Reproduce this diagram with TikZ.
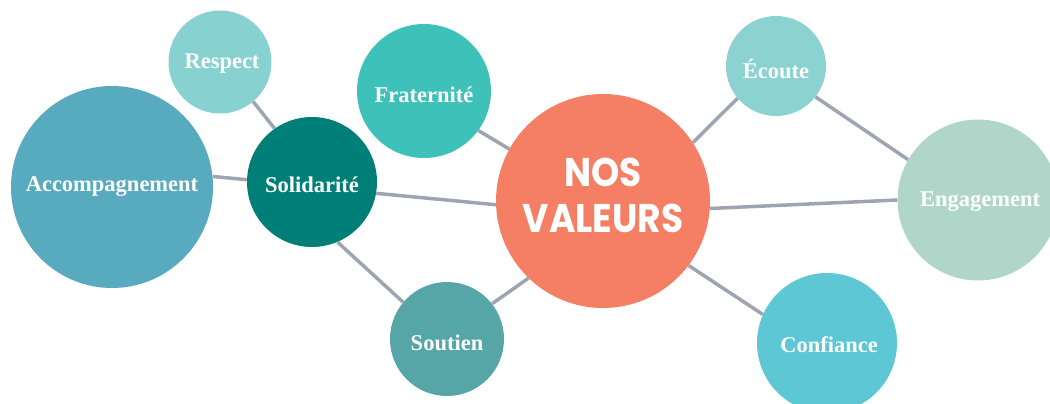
\documentclass[tikz,border=0pt]{standalone}
\usepackage{fontspec}
\setmainfont{Liberation Serif}
\newfontfamily\titlefont[FakeStretch=0.9]{Poppins}
\definecolor{linegray}{HTML}{9EA4B2}
\definecolor{respectc}{HTML}{88D1D1}
\definecolor{fraternitec}{HTML}{3DC1B9}
\definecolor{accompc}{HTML}{58ABBF}
\definecolor{solidc}{HTML}{007F79}
\definecolor{soutienc}{HTML}{56A6A8}
\definecolor{valeursc}{HTML}{F57F64}
\definecolor{ecoutec}{HTML}{8CD2D0}
\definecolor{engagec}{HTML}{B0D6CA}
\definecolor{confiancec}{HTML}{5DC7D3}
\begin{document}
\begin{tikzpicture}[x=1pt, y=-1pt,
    bubble/.style={circle, inner sep=0pt, text=white,
      font=\fontsize{22.5}{24}\selectfont\bfseries},
    lbl/.style={text=white, font=\fontsize{22.5}{24}\selectfont\bfseries},
    link/.style={draw=linegray, line width=3.5pt}]

    \useasboundingbox (0,0) rectangle (1050,404);
    \clip (0,0) rectangle (1050,404);

    \node[bubble, fill=respectc, minimum size=103pt] (respect) at (220, 62){};
    \node[bubble, fill=fraternitec, minimum size=134pt] (fraternite) at (424, 91){};
    \node[bubble, fill=accompc, minimum size=202pt] (accomp) at (112, 187){};
    \node[bubble, fill=solidc, minimum size=130pt] (solid) at (312, 182){};
    \node[bubble, fill=soutienc, minimum size=114pt] (soutien) at (447, 339){};
    \node[bubble, fill=valeursc, minimum size=214pt] (valeurs) at (603, 201){};
    \node[bubble, fill=ecoutec, minimum size=100pt] (ecoute) at (776, 66){};
    \node[bubble, fill=engagec, minimum size=161pt] (engage) at (978, 200){};
    \node[bubble, fill=confiancec, minimum size=140pt] (confiance) at (827, 343){};

    \node[lbl] (respectl) at (222, 64){Respect};
    \node[lbl] (fraternitel) at (424, 95){Fraternité};
    \node[lbl] (accompl) at (112, 187){Accompagnement};
    \node[lbl] (solidl) at (312, 185){Solidarité};
    \node[lbl] (soutienl) at (447, 343){Soutien};
    \node[lbl] (ecoutel) at (776, 69){Écoute};
    \node[lbl] (engagel) at (980, 202){Engagement};
    \node[lbl] (confiancel) at (829, 345){Confiance};
    \node[text=white, align=center, font=\titlefont\bfseries\fontsize{40}{46}\selectfont]
      (valeursl) at (603, 195){NOS\\VALEURS};

    \draw[link] (accomp.6) -- (solid.178);
    \draw[link] (respect.-50) -- (solid.125);
    \draw[link] (solid.-10) -- (valeurs.182);
    \draw[link] (solid.-67) -- (soutien.140);
    \draw[link] (soutien.38) -- (valeurs.-134);
    \draw[link] (fraternite.-36) -- (valeurs.151);
    \draw[link] (valeurs.33) -- (ecoute.-140);
    \draw[link] (ecoute.-38) -- (engage.150);
    \draw[link] (valeurs.-4) -- (engage.180);
    \draw[link] (valeurs.-37) -- (confiance.156);

  \end{tikzpicture}
\end{document}
